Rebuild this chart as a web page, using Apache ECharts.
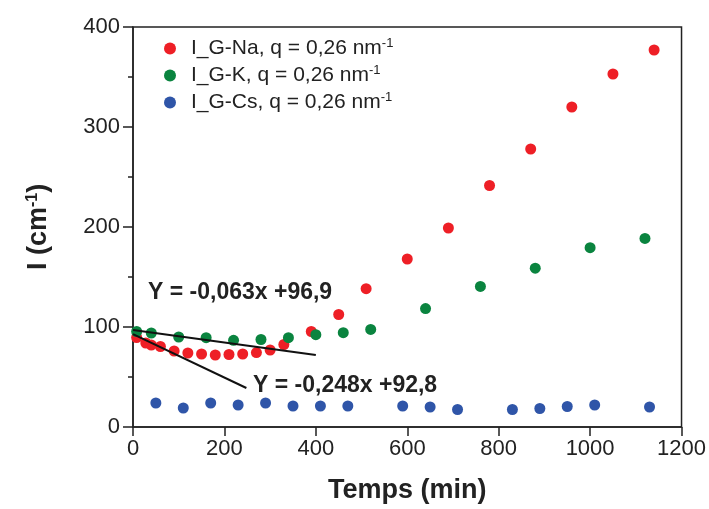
<!DOCTYPE html>
<html>
<head>
<meta charset="utf-8">
<script src="https://cdn.jsdelivr.net/npm/echarts@6/dist/echarts.min.js"></script>
<style>html,body{margin:0;padding:0;background:#fff;}#c{width:709px;height:509px;}</style>
</head>
<body>
<div id="c"></div>
<script>
const naTime = [8, 28, 40, 60, 90, 120, 150, 180, 210, 240, 270, 300, 330, 390, 450, 510, 600, 690, 780, 870, 960, 1050, 1140];
const naI    = [89.5, 84, 82, 80.5, 76, 74, 73, 72, 72.5, 73, 74.4, 77, 82.5, 95.5, 112.5, 138.3, 168, 199, 241.5, 278, 320, 353, 377];
const kTime  = [8, 40, 100, 160, 220, 280, 340, 400, 460, 520, 640, 760, 880, 1000, 1120];
const kI     = [95.5, 94, 90, 89.3, 86.7, 87.5, 89.3, 92.3, 94.3, 97.6, 118.4, 140.6, 158.8, 179.3, 188.6];
const csTime = [50, 110, 170, 230, 290, 350, 410, 470, 590, 650, 710, 830, 890, 950, 1010, 1130];
const csI    = [24, 19, 24, 22, 24, 21, 21, 21, 21, 20, 17.5, 17.5, 18.5, 20.5, 22, 20];
const fitK   = [[0, 97], [400, 72]];
const fitNa  = [[0, 92.8], [248, 39]];
const seriesNames = ['I_G-Na, q = 0,26 nm', 'I_G-K, q = 0,26 nm', 'I_G-Cs, q = 0,26 nm'];
const fitLabels = ['Y = -0,063x +96,9', 'Y = -0,248x +92,8'];
const xTicks = [0, 200, 400, 600, 800, 1000, 1200];
const yTicks = [0, 100, 200, 300, 400];

const zip = (a, b) => a.map((v, i) => [v, b[i]]);
const FONT = 'Liberation Sans, Arial, sans-serif';
const chart = echarts.init(document.getElementById('c'));
chart.setOption({
  animation: false,
  backgroundColor: '#fff',
  grid: { left: 133, right: 26, top: 27, bottom: 79, show: true, borderColor: '#222', borderWidth: 1.5, backgroundColor: 'transparent' },
  legend: {
    orient: 'vertical', left: 159, top: 32, itemGap: 5,
    icon: 'circle', itemWidth: 12, itemHeight: 12,
    data: seriesNames.slice(0, 3),
    formatter: n => n + '{s|-1}',
    textStyle: { fontFamily: FONT, fontSize: 21, color: '#222', padding: [0, 0, 0, 10],
      rich: { s: { fontSize: 13, fontFamily: FONT, color: '#222', verticalAlign: 'top', padding: [0, 0, 10, 0] } } }
  },
  xAxis: {
    type: 'value', min: xTicks[0], max: xTicks[xTicks.length - 1], interval: 200,
    name: 'Temps (min)', nameLocation: 'middle', nameGap: 50,
    nameTextStyle: { fontFamily: FONT, fontSize: 27, fontWeight: 'bold', color: '#222' },
    axisLine: { lineStyle: { color: '#222', width: 1.5 } },
    axisTick: { length: 9, lineStyle: { color: '#222', width: 1.5 } },
    axisLabel: { fontFamily: FONT, fontSize: 22, color: '#222', margin: 11, formatter: v => String(v) },
    splitLine: { show: false }
  },
  yAxis: {
    type: 'value', min: yTicks[0], max: yTicks[yTicks.length - 1], interval: 100,
    name: 'I (cm{s|-1})', nameLocation: 'middle', nameGap: 80,
    nameTextStyle: { fontFamily: FONT, fontSize: 27, fontWeight: 'bold', color: '#222',
      rich: { s: { fontSize: 16, fontWeight: 'bold', fontFamily: FONT, color: '#222', verticalAlign: 'top', padding: [0, 0, 12, 0] } } },
    axisLine: { show: true, lineStyle: { color: '#222', width: 1.5 } },
    axisTick: { length: 10, lineStyle: { color: '#222', width: 1.5 } },
    minorTick: { show: true, splitNumber: 2, length: 5, lineStyle: { color: '#222', width: 1.5 } },
    axisLabel: { fontFamily: FONT, fontSize: 22, color: '#222', margin: 13 },
    splitLine: { show: false }
  },
  series: [
    { name: seriesNames[0], type: 'scatter', data: zip(naTime, naI), symbolSize: 11, itemStyle: { color: '#ee1f26', opacity: 1 }, z: 3 },
    { name: seriesNames[1], type: 'scatter', data: zip(kTime, kI), symbolSize: 11, itemStyle: { color: '#0a843f', opacity: 1 }, z: 4 },
    { name: seriesNames[2], type: 'scatter', data: zip(csTime, csI), symbolSize: 11, itemStyle: { color: '#2f55a8', opacity: 1 }, z: 3 },
    { name: 'fitK', type: 'line', data: fitK, symbol: 'none', lineStyle: { color: '#111', width: 2 }, z: 5 },
    { name: 'fitNa', type: 'line', data: fitNa, symbol: 'none', lineStyle: { color: '#111', width: 2 }, z: 5 }
  ],
  graphic: [
    { type: 'text', left: 148, top: 281, style: { text: fitLabels[0], font: 'bold 23px Liberation Sans, Arial, sans-serif', fill: '#222' } },
    { type: 'text', left: 253, top: 374, style: { text: fitLabels[1], font: 'bold 23px Liberation Sans, Arial, sans-serif', fill: '#222' } }
  ]
});
</script>
</body>
</html>
